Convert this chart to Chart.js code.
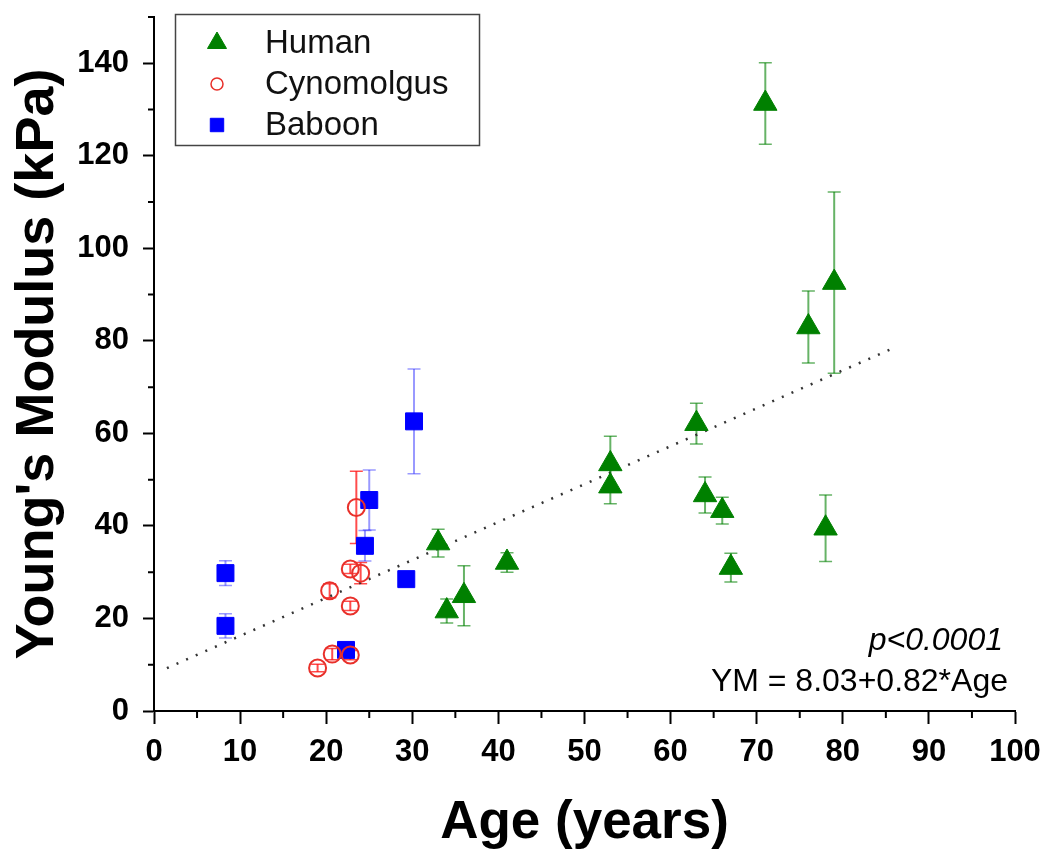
<!DOCTYPE html>
<html>
<head>
<meta charset="utf-8">
<script src="https://cdn.jsdelivr.net/npm/chart.js@4.4.1/dist/chart.umd.min.js"></script>
<style>
  body { margin: 0; background: #fff; }
  #wrap { width: 1050px; height: 867px; }
</style>
</head>
<body>
<div id="wrap"><canvas id="modulus"></canvas></div>
<script>
// data
const humanAge = [33, 34, 36, 41, 53, 53, 63, 64, 66, 67, 71, 76, 78, 79];
const humanYM = [36.3, 21.6, 24.9, 32.1, 53.4, 48.6, 62.1, 46.7, 43.3, 31.0, 131.3, 83.0, 39.5, 92.6];
const humanErr = [3.0, 2.6, 6.5, 2.1, 6.0, 3.8, 4.4, 3.9, 2.9, 3.1, 8.8, 7.8, 7.2, 19.6];

const cynoAge = [19.0, 20.7, 22.8, 20.4, 22.8, 22.8, 24.0, 23.5];
const cynoYM = [9.3, 12.3, 12.1, 26.0, 22.7, 30.7, 29.8, 44.0];
const cynoErr = [0.8, 1.2, 1.0, 1.5, 1.0, 1.0, 2.3, 7.8];

const baboonAge = [8.3, 8.3, 22.3, 24.5, 25.0, 29.3, 30.2];
const baboonYM = [29.8, 18.4, 13.2, 35.7, 45.6, 28.5, 62.6];
const baboonErr = [2.7, 2.6, 1.0, 3.3, 6.5, 1.0, 11.3];

// linear fit printed on the figure: YM = 8.03 + 0.82*Age
const fitIntercept = 8.03;
const fitSlope = 0.82;
const fitRange = [1.5, 86];

const xTicks = [0, 10, 20, 30, 40, 50, 60, 70, 80, 90, 100];
const yTicks = [0, 20, 40, 60, 80, 100, 120, 140];

function points(xs, ys) {
    return xs.map((x, i) => ({x: x, y: ys[i]}));
}

Chart.defaults.font.family = "'Liberation Sans', Arial, sans-serif";
Chart.defaults.color = '#000';

const errorBars = {
    id: 'errorBars',
    beforeDatasetsDraw(chart) {
        const ctx = chart.ctx;
        const xs = chart.scales.x, ys = chart.scales.y;
        chart.data.datasets.forEach((ds) => {
            if (!ds.errors) return;
            ctx.save();
            ctx.strokeStyle = ds.errorColor;
            ds.data.forEach((p, i) => {
                const px = xs.getPixelForValue(p.x);
                const top = ys.getPixelForValue(p.y + ds.errors[i]);
                const bot = ys.getPixelForValue(p.y - ds.errors[i]);
                ctx.lineWidth = 2;
                ctx.beginPath();
                ctx.moveTo(px, top);
                ctx.lineTo(px, bot);
                ctx.stroke();
                ctx.lineWidth = 1.5;
                ctx.beginPath();
                ctx.moveTo(px - 6.5, top);
                ctx.lineTo(px + 6.5, top);
                ctx.moveTo(px - 6.5, bot);
                ctx.lineTo(px + 6.5, bot);
                ctx.stroke();
            });
            ctx.restore();
        });
    }
};

const extras = {
    id: 'extras',
    afterDraw(chart) {
        const ctx = chart.ctx;
        const xs = chart.scales.x, ys = chart.scales.y;
        const area = chart.chartArea;
        ctx.save();
        // minor ticks
        ctx.strokeStyle = '#000';
        ctx.lineWidth = 2;
        ctx.beginPath();
        for (let v = 5; v < 100; v += 10) {
            const px = xs.getPixelForValue(v);
            ctx.moveTo(px, area.bottom);
            ctx.lineTo(px, area.bottom + 7);
        }
        for (let v = 10; v <= 150; v += 20) {
            const py = ys.getPixelForValue(v);
            ctx.moveTo(area.left, py);
            ctx.lineTo(area.left - 6, py);
        }
        ctx.stroke();

        // fit text
        ctx.fillStyle = '#000';
        ctx.textAlign = 'right';
        ctx.textBaseline = 'middle';
        ctx.font = "italic 32px 'Liberation Sans', Arial, sans-serif";
        ctx.fillText('p<0.0001', area.right - 12, area.bottom - 70);
        ctx.font = "32px 'Liberation Sans', Arial, sans-serif";
        ctx.fillText('YM = 8.03+0.82*Age', area.right - 7, area.bottom - 29);

        // legend
        const bx = area.left + 21, by = area.top - 3;
        ctx.strokeStyle = '#444';
        ctx.lineWidth = 1.5;
        ctx.strokeRect(bx + 0.5, by + 0.5, 304, 131);
        const sizes = [11, 6, 9.5];
        chart.data.datasets.forEach((ds, i) => {
            if (!ds.errors) return;
            const cy = by + 29 + i * 41;
            ctx.fillStyle = ds.backgroundColor;
            ctx.strokeStyle = ds.borderColor;
            ctx.lineWidth = i === 1 ? 1.5 : 1;
            Chart.helpers.drawPoint(ctx, {pointStyle: ds.pointStyle, radius: sizes[i], rotation: 0, borderWidth: 1}, bx + 42, cy);
            ctx.fillStyle = '#111';
            ctx.textAlign = 'left';
            ctx.font = "33px 'Liberation Sans', Arial, sans-serif";
            ctx.fillText(ds.label, bx + 90, cy + 1);
        });
        ctx.restore();
    }
};

const modulus = new Chart(
    document.getElementById('modulus'),
    {
    type: 'scatter',
    data: {
        datasets: [{
            label: 'Human',
            data: points(humanAge, humanYM),
            errors: humanErr,
            errorColor: 'rgba(0, 128, 0, 0.6)',
            pointStyle: 'triangle',
            pointRadius: 13.5,
            backgroundColor: '#008000',
            borderColor: '#008000',
            borderWidth: 1
        }, {
            label: 'Cynomolgus',
            data: points(cynoAge, cynoYM),
            errors: cynoErr,
            errorColor: 'rgba(255, 0, 0, 0.7)',
            pointStyle: 'circle',
            pointRadius: 8.5,
            backgroundColor: 'rgba(0, 0, 0, 0)',
            borderColor: '#e8302a',
            borderWidth: 2
        }, {
            label: 'Baboon',
            data: points(baboonAge, baboonYM),
            errors: baboonErr,
            errorColor: 'rgba(0, 0, 255, 0.4)',
            pointStyle: 'rect',
            pointRadius: 12,
            backgroundColor: '#0000ff',
            borderColor: '#0000ff',
            borderWidth: 1
        }, {
            label: 'fit',
            data: fitRange.map((x) => ({x: x, y: fitIntercept + fitSlope * x})),
            showLine: true,
            pointRadius: 0,
            borderColor: '#333',
            borderWidth: 2.5,
            borderDash: [2, 8.5]
        }]
    },
    options: {
        responsive: true,
        maintainAspectRatio: false,
        animation: false,
        layout: { padding: { top: 17, right: 35, left: 0, bottom: 0 } },
        plugins: {
            legend: { display: false },
            tooltip: { enabled: false }
        },
        scales: {
            x: {
                type: 'linear',
                min: 0,
                max: 100,
                afterFit: (scale) => {
                    scale.height = 156;
                    scale.paddingLeft = 0;
                    scale.paddingRight = 0;
                },
                afterBuildTicks: (scale) => { scale.ticks = xTicks.map((v) => ({value: v})); },
                grid: { drawOnChartArea: false, tickLength: 13, tickColor: '#000', tickWidth: 2 },
                border: { color: '#000', width: 2 },
                ticks: { padding: 10, maxRotation: 0, font: { size: 31, weight: 'bold' } },
                title: {
                    display: true,
                    text: 'Age (years)',
                    font: { size: 53, weight: 'bold', lineHeight: 1.2 },
                    padding: { top: 0, bottom: 12 }
                }
            },
            y: {
                type: 'linear',
                min: 0,
                max: 150,
                bounds: 'data',
                afterFit: (scale) => {
                    scale.width = 154;
                    scale.paddingTop = 0;
                    scale.paddingBottom = 0;
                },
                afterBuildTicks: (scale) => { scale.ticks = yTicks.map((v) => ({value: v})); },
                grid: { drawOnChartArea: false, tickLength: 11, tickColor: '#000', tickWidth: 2 },
                border: { color: '#000', width: 2 },
                ticks: { padding: 14, font: { size: 31, weight: 'bold' } },
                title: {
                    display: true,
                    text: "Young's Modulus (kPa)",
                    font: { size: 54, weight: 'bold', lineHeight: 1.2 },
                    padding: { top: 6, bottom: 0 }
                }
            }
        }
    },
    plugins: [errorBars, extras]
    }
);
</script>
</body>
</html>
